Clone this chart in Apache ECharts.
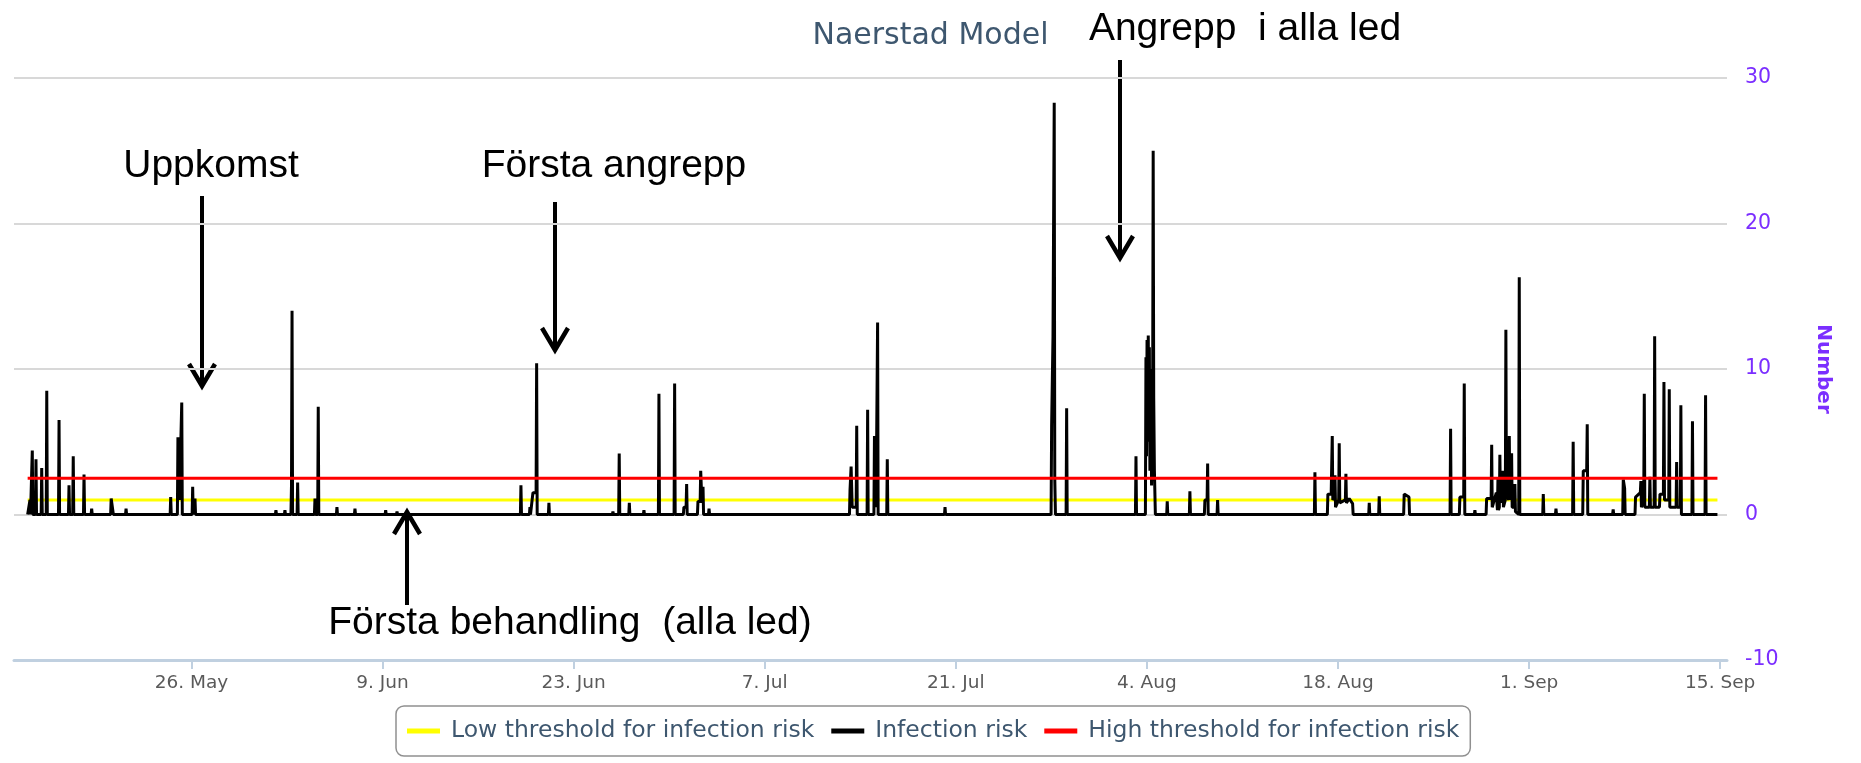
<!DOCTYPE html>
<html>
<head>
<meta charset="utf-8">
<title>Naerstad Model</title>
<script src="https://cdn.jsdelivr.net/npm/echarts@6/dist/echarts.min.js"></script>
<style>
  html, body { margin: 0; padding: 0; background: #fff; }
  #main { width: 1861px; height: 763px; }
</style>
</head>
<body>
<div id="main"></div>
<script>
// x values are days counted from 13 May (left edge of the axis)
const tickDays = [13, 27, 41, 55, 69, 83, 97, 111, 125];
const tickLabels = ['26. May', '9. Jun', '23. Jun', '7. Jul', '21. Jul', '4. Aug', '18. Aug', '1. Sep', '15. Sep'];

const seriesNames = ['Low threshold for infection risk', 'Infection risk', 'High threshold for infection risk'];

// threshold lines run over the whole period
const thresholdDays = [1.0, 124.8];
const lowThreshold = [1, 1];
const highThreshold = [2.5, 2.5];

// infection risk: [day, value]
const riskPoints = [
  [1.00, 0], [1.17, 1.0], [1.21, 0],
  [1.30, 0], [1.34, 4.4], [1.38, 0],
  [1.57, 0], [1.61, 3.8], [1.65, 0],
  [1.99, 0], [2.03, 3.2], [2.07, 0],
  [2.36, 0], [2.40, 8.5], [2.44, 0],
  [3.26, 0], [3.30, 6.5], [3.34, 0],
  [3.99, 0], [4.03, 2.0], [4.07, 0],
  [4.30, 0], [4.34, 4.0], [4.38, 0],
  [5.09, 0], [5.13, 2.75], [5.17, 0],
  [5.65, 0], [5.69, 0.4], [5.73, 0],
  [7.08, 0], [7.12, 1.1], [7.24, 1.1], [7.28, 0],
  [8.17, 0], [8.21, 0.4], [8.25, 0],
  [11.44, 0], [11.48, 1.2], [11.52, 0],
  [11.97, 0], [12.01, 5.3], [12.12, 1.0], [12.25, 1.0], [12.29, 7.7], [12.33, 0],
  [13.05, 0], [13.09, 1.9], [13.13, 0],
  [13.22, 0], [13.26, 1.1], [13.30, 0],
  [19.15, 0], [19.19, 0.3], [19.23, 0],
  [19.81, 0], [19.85, 0.3], [19.89, 0],
  [20.29, 0], [20.33, 2.0], [20.37, 14.0], [20.41, 0],
  [20.74, 0], [20.78, 2.2], [20.82, 0],
  [22.01, 0], [22.05, 1.1], [22.09, 0],
  [22.25, 0], [22.29, 7.4], [22.33, 0],
  [23.62, 0], [23.66, 0.5], [23.70, 0],
  [24.94, 0], [24.98, 0.4], [25.02, 0],
  [27.19, 0], [27.23, 0.3], [27.27, 0],
  [28.02, 0], [28.06, 0.2], [28.10, 0],
  [37.10, 0], [37.14, 2.0], [37.18, 0],
  [37.76, 0], [37.80, 0.5], [37.84, 0],
  [37.98, 0], [38.02, 1.5], [38.25, 1.5], [38.29, 10.4], [38.33, 0],
  [39.15, 0], [39.19, 0.8], [39.23, 0],
  [40.16, 0], [40.20, 0.1], [40.24, 0],
  [43.84, 0], [43.88, 0.2], [43.92, 0],
  [44.30, 0], [44.34, 4.2], [44.38, 0],
  [45.04, 0], [45.08, 0.8], [45.12, 0],
  [46.11, 0], [46.15, 0.3], [46.19, 0],
  [47.21, 0], [47.25, 8.3], [47.29, 0],
  [48.36, 0], [48.40, 9.0], [48.44, 0],
  [49.04, 0], [49.08, 0.5], [49.24, 0.5], [49.28, 2.1], [49.32, 0],
  [50.07, 0], [50.11, 0.9], [50.27, 0.9], [50.31, 3.0], [50.40, 0.8], [50.48, 1.9], [50.52, 0],
  [50.88, 0], [50.92, 0.4], [50.96, 0],
  [61.21, 0], [61.25, 1.7], [61.33, 3.3], [61.41, 0.5], [61.70, 0.5], [61.74, 6.1], [61.78, 0],
  [62.50, 0], [62.54, 7.2], [62.58, 0],
  [63.00, 0], [63.04, 5.4], [63.16, 0.5], [63.23, 0.5], [63.27, 13.2], [63.31, 0],
  [63.94, 0], [63.98, 3.8], [64.02, 0],
  [68.17, 0], [68.21, 0.5], [68.25, 0],
  [75.98, 0], [76.02, 6.1], [76.12, 12.25], [76.21, 28.3], [76.25, 2.5], [76.30, 0],
  [77.08, 0], [77.12, 7.3], [77.16, 0],
  [82.16, 0], [82.20, 4.0], [82.24, 0],
  [82.89, 0], [82.93, 10.8], [82.97, 4.0], [83.01, 12.0], [83.05, 5.0], [83.10, 12.3], [83.14, 6.0],
  [83.18, 11.5], [83.22, 3.0], [83.30, 10.0], [83.34, 2.0], [83.42, 8.0], [83.46, 25.0], [83.50, 8.0],
  [83.55, 3.0], [83.62, 0],
  [84.45, 0], [84.49, 0.9], [84.53, 0],
  [86.11, 0], [86.15, 1.6], [86.19, 0],
  [87.21, 0], [87.25, 1.0], [87.41, 1.0], [87.45, 3.5], [87.49, 0],
  [88.14, 0], [88.18, 1.0], [88.22, 0],
  [95.27, 0], [95.31, 2.9], [95.35, 0],
  [96.22, 0], [96.26, 1.4], [96.50, 1.4], [96.58, 5.4], [96.62, 1.0], [96.74, 1.2], [96.78, 2.7],
  [96.82, 0.5], [97.05, 1.0], [97.09, 4.9], [97.13, 0.8], [97.54, 1.0], [97.58, 2.8], [97.62, 0.8],
  [97.82, 1.1], [98.07, 0.75], [98.11, 0],
  [99.25, 0], [99.29, 0.8], [99.33, 0],
  [99.98, 0], [100.02, 1.25], [100.06, 0],
  [101.81, 0], [101.85, 1.4], [102.20, 1.2], [102.24, 0],
  [105.21, 0], [105.25, 5.9], [105.29, 0],
  [105.89, 0], [105.93, 1.2], [106.21, 1.2], [106.25, 9.0], [106.29, 0],
  [106.99, 0], [107.03, 0.3], [107.07, 0],
  [107.85, 0], [107.89, 1.1], [108.22, 1.1], [108.26, 4.8], [108.30, 0.5], [108.60, 1.5], [108.68, 0.3],
  [108.72, 2.5], [108.76, 0.3], [108.82, 0.5], [108.86, 4.1], [108.90, 0.8], [109.04, 0.8], [109.08, 3.0],
  [109.12, 0.5], [109.26, 1.0], [109.30, 12.7], [109.34, 1.5], [109.51, 1.0], [109.55, 5.4], [109.59, 1.0],
  [109.68, 1.0], [109.72, 4.2], [109.76, 0.5], [109.92, 0.5], [109.96, 2.1], [110.00, 0.2], [110.24, 0],
  [110.28, 16.3], [110.32, 0],
  [112.00, 0], [112.04, 1.4], [112.08, 0],
  [112.93, 0], [112.97, 0.4], [113.01, 0],
  [114.19, 0], [114.23, 5.0], [114.27, 0],
  [114.93, 0], [114.97, 3.0], [115.22, 3.0], [115.26, 6.2], [115.30, 0],
  [117.12, 0], [117.16, 0.35], [117.20, 0],
  [117.86, 0], [117.90, 2.4], [118.00, 1.8], [118.04, 0],
  [118.76, 0], [118.80, 1.2], [119.15, 1.5], [119.19, 2.3], [119.23, 0.5], [119.40, 1.0], [119.44, 8.3],
  [119.48, 0.5], [119.81, 0.5], [119.85, 2.6], [119.89, 0.5], [120.16, 0.5], [120.20, 12.25], [120.24, 0.5],
  [120.55, 0.5], [120.59, 1.4], [120.84, 1.4], [120.88, 9.1], [120.92, 1.0], [121.23, 1.0], [121.27, 8.6],
  [121.31, 0.5], [121.77, 0.5], [121.81, 3.6], [121.85, 0.5], [122.08, 0.5], [122.12, 7.5], [122.16, 0],
  [122.93, 0], [122.97, 6.4], [123.01, 0],
  [123.89, 0], [123.93, 8.2], [123.97, 0],
  [124.80, 0]
];

const purple = '#7b2eff';
const font = 'DejaVu Sans';
const noteFont = '39px "Liberation Sans", Arial, sans-serif';

// arrow (shaft + chevron head) used for the annotations
function arrow(x, yFrom, yTip) {
  const dir = yTip > yFrom ? -1 : 1;
  return {
    type: 'group',
    z: 100,
    children: [
      { type: 'line', shape: { x1: x, y1: yFrom, x2: x, y2: yTip + dir * 2 }, style: { stroke: '#000', lineWidth: 4 } },
      {
        type: 'polyline',
        shape: { points: [[x - 13, yTip + dir * 22], [x, yTip], [x + 13, yTip + dir * 22]] },
        style: { stroke: '#000', lineWidth: 4.5, fill: null, lineJoin: 'miter' }
      }
    ]
  };
}

function note(text, x, y) {
  return {
    type: 'text', x: x, y: y, z: 100,
    style: { text: text, font: noteFont, fill: '#000', align: 'center', verticalAlign: 'middle' }
  };
}

const chart = echarts.init(document.getElementById('main'));

chart.setOption({
  animation: false,
  backgroundColor: '#fff',
  title: {
    text: 'Naerstad Model',
    left: 'center',
    top: 21,
    padding: 0,
    textStyle: { color: '#3E576F', fontSize: 30, fontWeight: 'normal', fontFamily: font }
  },
  legend: {
    left: 396,
    top: 706,
    padding: [13, 11, 13, 11],
    icon: 'rect',
    itemWidth: 33,
    itemHeight: 5,
    itemGap: 17,
    borderColor: '#909090',
    borderWidth: 1.5,
    borderRadius: 8,
    textStyle: { color: '#3E576F', fontSize: 23.5, fontFamily: font, padding: [0, 0, 0, 6] },
    data: seriesNames
  },
  grid: { left: 14, right: 134, top: 78, bottom: 103, outerBoundsMode: 'none' },
  xAxis: {
    type: 'value',
    min: 0,
    max: 125.5,
    axisLine: { onZero: false, lineStyle: { color: '#C0D0E0', width: 3 } },
    axisTick: { customValues: tickDays, length: 9, lineStyle: { color: '#C0D0E0', width: 2 } },
    axisLabel: {
      customValues: tickDays,
      margin: 14,
      color: '#5a5a5a',
      fontSize: 18.5,
      fontFamily: font,
      formatter: function (v) { return tickLabels[tickDays.indexOf(v)]; }
    },
    splitLine: { show: false }
  },
  yAxis: {
    type: 'value',
    position: 'right',
    min: -10,
    max: 30,
    interval: 10,
    name: 'Number',
    nameLocation: 'middle',
    nameRotate: -90,
    nameGap: 86,
    nameTextStyle: { color: purple, fontSize: 20, fontWeight: 'bold', fontFamily: font },
    axisLine: { show: false },
    axisTick: { show: false },
    axisLabel: { margin: 18, color: purple, fontSize: 20.5, fontFamily: font },
    splitLine: { lineStyle: { color: '#d8d8d8', width: 2 } }
  },
  series: [
    {
      name: seriesNames[0],
      type: 'line',
      symbol: 'none',
      color: '#ffff00',
      lineStyle: { width: 3 },
      data: thresholdDays.map((d, i) => [d, lowThreshold[i]])
    },
    {
      name: seriesNames[1],
      type: 'line',
      symbol: 'none',
      color: '#000000',
      lineStyle: { width: 3, join: 'bevel' },
      data: riskPoints
    },
    {
      name: seriesNames[2],
      type: 'line',
      symbol: 'none',
      color: '#ff0000',
      lineStyle: { width: 3 },
      data: thresholdDays.map((d, i) => [d, highThreshold[i]])
    }
  ],
  graphic: [
    note('Uppkomst', 211, 166),
    arrow(202, 196, 386),
    note('Första angrepp', 614, 166),
    arrow(555, 202, 350),
    note('Angrepp  i alla led', 1245, 29),
    arrow(1120, 60, 258),
    note('Första behandling  (alla led)', 570, 623),
    arrow(407, 605, 512)
  ]
});
</script>
</body>
</html>
